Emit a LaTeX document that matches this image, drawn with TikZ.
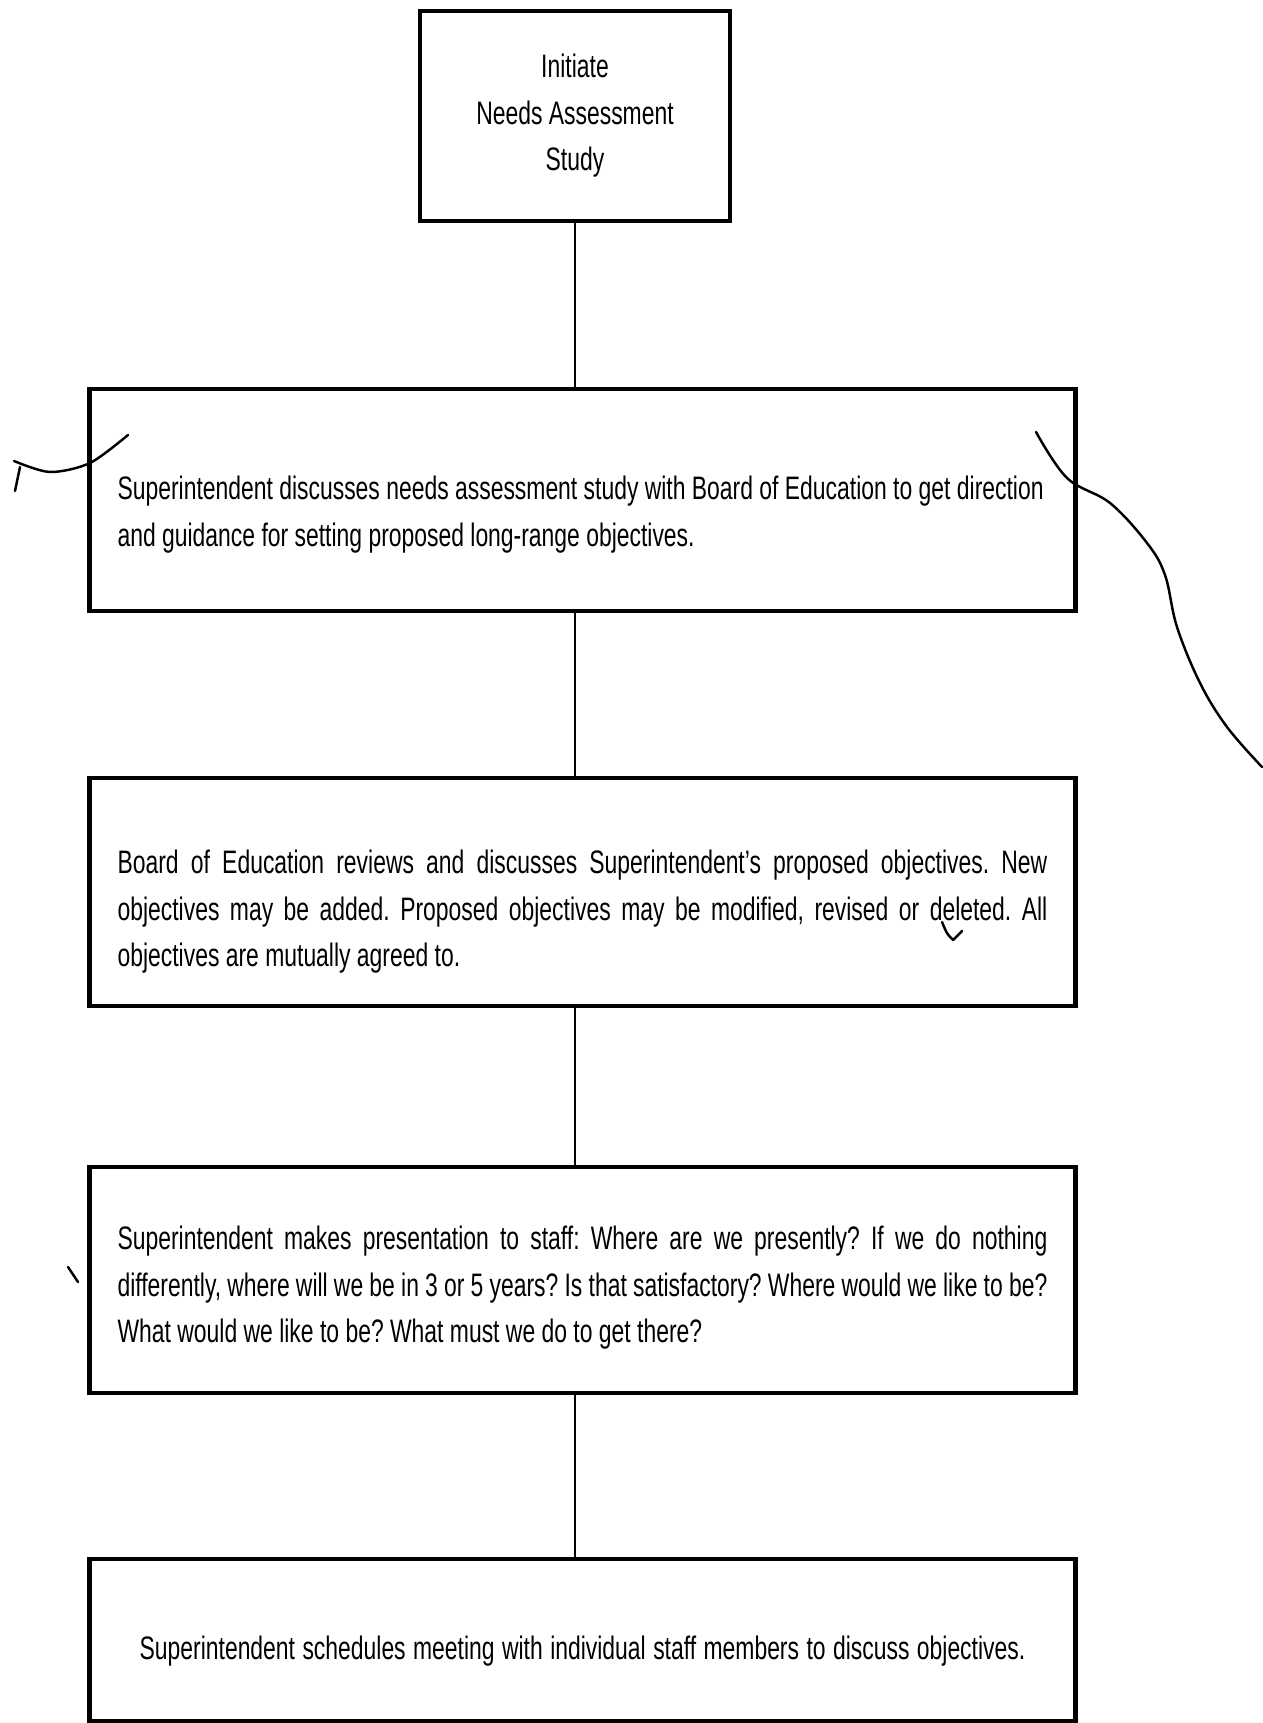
\documentclass[tikz,border=0pt]{standalone}
\usepackage{fontspec}
\setmainfont[FakeStretch=0.705, WordSpace=1.0]{Liberation Sans}
\frenchspacing
\usetikzlibrary{positioning, calc}
\tikzset{
  box/.style = {
    draw, line width=2.4pt, align=center, inner sep=0pt, fill=white,
    font=\fontsize{18.5pt}{26.5pt}\selectfont,
    execute at begin node={\spaceskip=0pt\xspaceskip=0pt\relax}
  },
  widebox/.style = {
    box, minimum width=19.72cm, text width=18.6cm
  },
  link/.style = {line width=1.5pt},
  pen/.style = {line width=1.4pt, line cap=round, line join=round},
}

\begin{document}
\begin{tikzpicture}[x=0.02cm, y=-0.02cm]
    \useasboundingbox (0,0) rectangle (1262,1723);

    % Steps of the study, one under the other
    \node[box, minimum width=6.2cm, minimum height=4.2cm] (initiate) at (575,116) {Initiate\\Needs Assessment\\Study};

    \node[widebox, align=left, minimum height=4.44cm, text height=29.7pt, below=3.28cm of initiate, xshift=0.15cm] (discuss) {%
      \mbox{Superintendent discusses needs assessment study with Board of Education to get direction}\\
      and guidance for setting proposed long-range objectives.};

    \node[widebox, align=justify, minimum height=4.56cm, text height=36pt, below=3.25cm of discuss] (review) {%
      Board of Education reviews and discusses Superintendent’s proposed objectives. New\linebreak
      objectives may be added. Proposed objectives may be modified, revised or deleted. All\linebreak
      objectives are mutually agreed to.};

    \node[widebox, align=justify, minimum height=4.52cm, text height=22.3pt, below=3.14cm of review] (present) {%
      Superintendent makes presentation to staff: Where are we presently? If we do nothing\linebreak
      differently, where will we be in 3 or 5 years? Is that satisfactory? Where would we like to be?\linebreak
      What would we like to be? What must we do to get there?};

    \node[widebox, align=center, minimum height=3.24cm, text height=26pt, below=3.24cm of present] (meet) {%
      Superintendent schedules meeting with individual staff members to discuss objectives.};

    % Plain vertical links
    \draw[link] (initiate.south) -- (initiate.south |- discuss.north);
    \draw[link] (discuss.south -| initiate.south) -- (review.north -| initiate.south);
    \draw[link] (review.south -| initiate.south) -- (present.north -| initiate.south);
    \draw[link] (present.south -| initiate.south) -- (meet.north -| initiate.south);

    % Pen marks on the sheet
    \draw[pen] plot[smooth] coordinates {(14,461) (50,472) (90,463) (128,435)};
    \draw[pen] (20,467) -- (15,491);
    \draw[pen] plot[smooth, tension=0.6] coordinates {(1036,432) (1067,478) (1110,503) (1147,543) (1165,575) (1177,627) (1200,683) (1227,727) (1262,767)};
    \draw[pen] (942,922) .. controls (947,934) .. (953,940) -- (962,931);
    \draw[pen] (68,1267) -- (78,1282);

\end{tikzpicture}
\end{document}
